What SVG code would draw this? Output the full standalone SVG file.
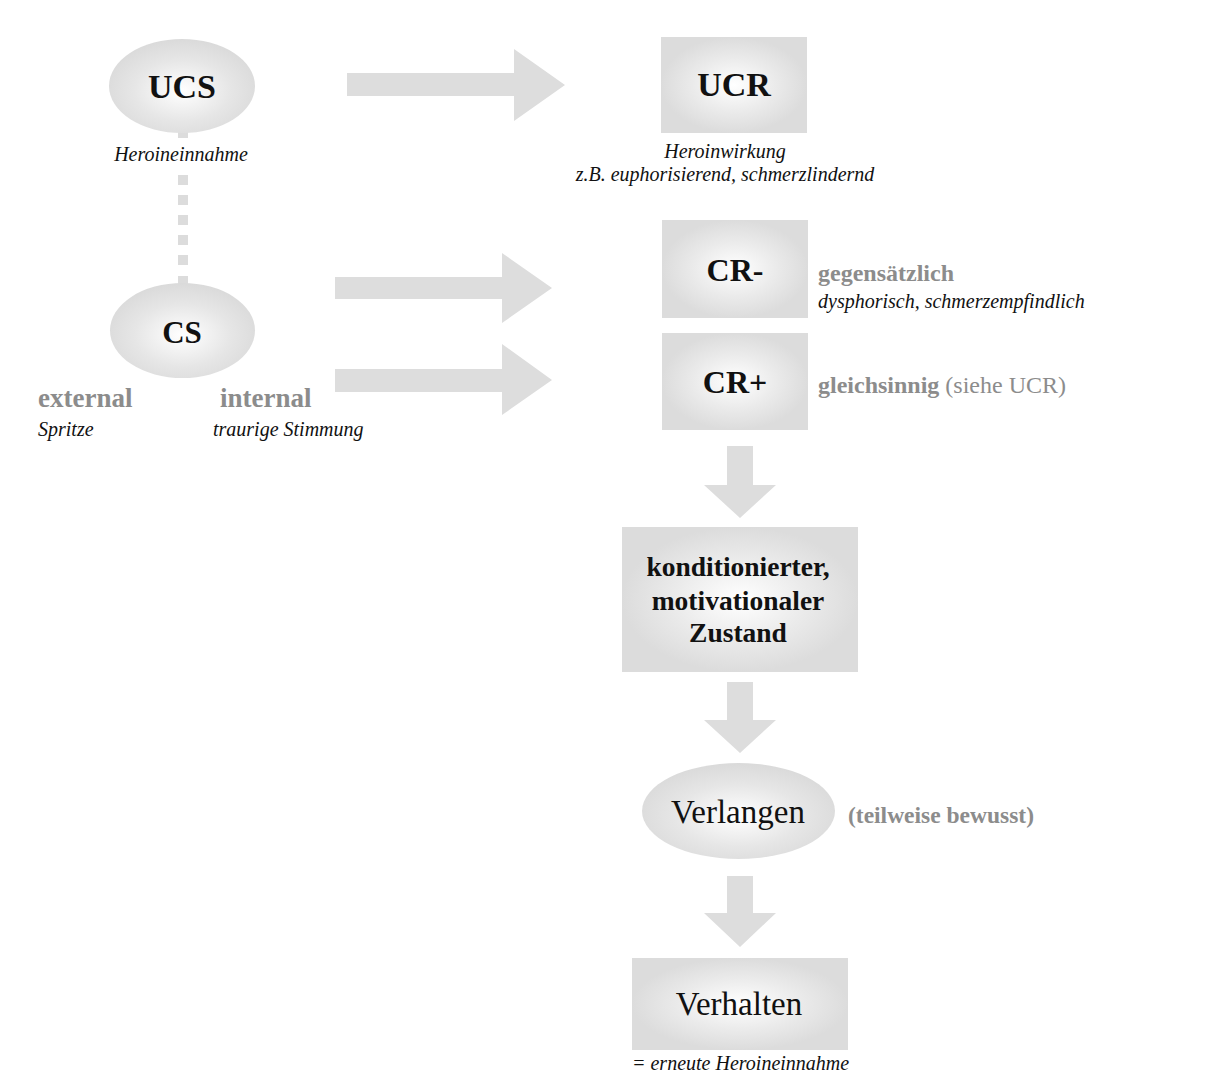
<svg xmlns="http://www.w3.org/2000/svg" width="1215" height="1081" viewBox="0 0 1215 1081">
<defs>
<radialGradient id="gBox" cx="50%" cy="50%" r="50%">
<stop offset="0" stop-color="#ffffff"/>
<stop offset="0.55" stop-color="#ebebeb"/>
<stop offset="1" stop-color="#dcdcdc"/>
</radialGradient>
<radialGradient id="gEll" cx="50%" cy="55%" r="55%">
<stop offset="0" stop-color="#ffffff"/>
<stop offset="0.6" stop-color="#e6e6e6"/>
<stop offset="1" stop-color="#dadada"/>
</radialGradient>
<style>
.box{fill:url(#gBox)}
.ell{fill:url(#gEll)}
.arr{fill:#dddddd}
.dash{fill:#dcdcdc}
.main{font-family:"Liberation Serif","Times New Roman",serif;font-weight:bold;fill:#111;text-anchor:middle}
.plain{font-family:"Liberation Serif","Times New Roman",serif;fill:#111;text-anchor:middle}
.desc{font-family:"Liberation Serif","Times New Roman",serif;font-style:italic;font-size:20px;fill:#111}
.gray{font-family:"Liberation Serif","Times New Roman",serif;font-weight:bold;fill:#8c8c8c}
.grayn{font-family:"Liberation Serif","Times New Roman",serif;font-weight:normal;fill:#8c8c8c}
</style>
</defs>
<rect width="1215" height="1081" fill="#ffffff"/>

<g id="connectors">
<!-- dashed link UCS - CS -->
<rect class="dash" x="178" y="131" width="10" height="7"/>
<rect class="dash" x="178" y="175" width="10" height="10"/>
<rect class="dash" x="178" y="195" width="10" height="10"/>
<rect class="dash" x="178" y="215" width="10" height="10"/>
<rect class="dash" x="178" y="235" width="10" height="10"/>
<rect class="dash" x="178" y="255" width="10" height="10"/>
<rect class="dash" x="178" y="276" width="10" height="9"/>
<!-- right arrows -->
<polygon class="arr" points="347,73 514,73 514,49 565,85 514,121 514,96 347,96"/>
<polygon class="arr" points="335,277 502,277 502,253 552,288 502,323 502,299 335,299"/>
<polygon class="arr" points="335,369 502,369 502,344 552,380 502,415 502,392 335,392"/>
<!-- down arrows -->
<polygon class="arr" points="727,446 753,446 753,485 776,485 740,518 704,485 727,485"/>
<polygon class="arr" points="727,682 753,682 753,720 776,720 740,753 704,720 727,720"/>
<polygon class="arr" points="727,876 753,876 753,913 776,913 740,947 704,913 727,913"/>
</g>

<g id="ucs">
<ellipse class="ell" cx="182" cy="86" rx="73" ry="47"/>
<text class="main" x="182" y="98" font-size="34">UCS</text>
<rect x="110" y="143" width="145" height="24" fill="#ffffff"/>
<text class="desc" x="181" y="161" text-anchor="middle">Heroineinnahme</text>
</g>

<g id="cs">
<ellipse class="ell" cx="182.5" cy="330.5" rx="72.5" ry="47.5"/>
<text class="main" x="182" y="343" font-size="31">CS</text>
<text class="gray" x="38" y="407" font-size="27">external</text>
<text class="desc" x="38" y="436">Spritze</text>
<text class="gray" x="220" y="407" font-size="27">internal</text>
<text class="desc" x="213" y="436">traurige Stimmung</text>
</g>

<g id="ucr">
<rect class="box" x="661" y="37" width="146" height="96"/>
<text class="main" x="734" y="96" font-size="34">UCR</text>
<text class="desc" x="725" y="158" text-anchor="middle">Heroinwirkung</text>
<text class="desc" x="725" y="181" text-anchor="middle">z.B. euphorisierend, schmerzlindernd</text>
</g>

<g id="cr-minus">
<rect class="box" x="662" y="220" width="146" height="98"/>
<text class="main" x="735" y="281" font-size="32">CR-</text>
<text class="gray" x="818" y="281" font-size="24">gegensätzlich</text>
<text class="desc" x="818" y="308" font-size="20.2">dysphorisch, schmerzempfindlich</text>
</g>

<g id="cr-plus">
<rect class="box" x="662" y="333" width="146" height="97"/>
<text class="main" x="735" y="393" font-size="32">CR+</text>
<text class="gray" x="818" y="393" font-size="24">gleichsinnig <tspan class="grayn">(siehe UCR)</tspan></text>
</g>

<g id="zustand">
<rect class="box" x="622" y="527" width="236" height="145"/>
<text class="main" x="738" y="576" font-size="27.5">konditionierter,</text>
<text class="main" x="738" y="610" font-size="27.5">motivationaler</text>
<text class="main" x="738" y="642" font-size="27.5">Zustand</text>
</g>

<g id="verlangen">
<ellipse class="ell" cx="738.5" cy="811" rx="96.5" ry="48"/>
<text class="plain" x="738" y="823" font-size="33">Verlangen</text>
<text class="gray" x="848" y="823" font-size="23.5">(teilweise bewusst)</text>
</g>

<g id="verhalten">
<rect class="box" x="632" y="958" width="216" height="92"/>
<text class="plain" x="739" y="1015" font-size="33">Verhalten</text>
<text class="desc" x="632" y="1070">= erneute Heroineinnahme</text>
</g>
</svg>
